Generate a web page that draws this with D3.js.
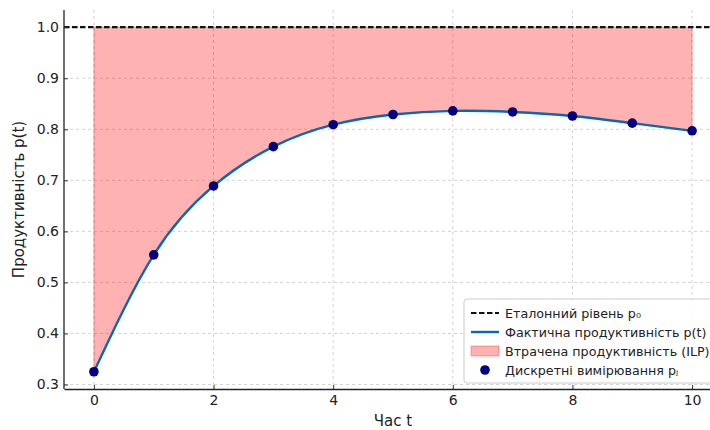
<!DOCTYPE html>
<html lang="uk">
<head>
<meta charset="UTF-8">
<title>Productivity p(t)</title>
<style>
  body { margin: 0; background: #fff; font-family: 'DejaVu Sans', sans-serif; }
  svg text { font-family: 'DejaVu Sans', sans-serif; fill: #222; }
</style>
</head>
<body>
<div id="chart"></div>
<script src="https://cdn.jsdelivr.net/npm/d3@7"></script>
<script>
// measured values
var times     = [0, 1, 2, 3, 4, 5, 6, 7, 8, 9, 10];
var measured  = [0.325, 0.554, 0.689, 0.766, 0.809, 0.829, 0.836, 0.834, 0.826, 0.812, 0.797];
var baseline  = 1.0;
var xTicks    = [0, 2, 4, 6, 8, 10];
var yTicks    = [0.3, 0.4, 0.5, 0.6, 0.7, 0.8, 0.9, 1.0];
var legendLabels = ['Еталонний рівень p₀', 'Фактична продуктивність p(t)', 'Втрачена продуктивність (ILP)', 'Дискретні вимірювання pⱼ'];

var W = 710, H = 430;
var mLeft = 64, mBottom = 389, mTop = 10, mRight = 722;

var svg = d3.select('#chart').append('svg').attr('width', W).attr('height', H);

var x = d3.scaleLinear().domain([-0.5, 10.5]).range([mLeft, mRight]);
var y = d3.scaleLinear().domain([0.2912, 1.0337]).range([mBottom, mTop]);

var pts = times.map(function (t, i) { return [t, measured[i]]; });

// grid
var grid = svg.append('g');
grid.selectAll('.gx').data(xTicks).enter().append('line')
    .attr('x1', d => x(d)).attr('x2', d => x(d)).attr('y1', mTop).attr('y2', mBottom)
    .attr('stroke', '#c8c8c8').attr('stroke-width', 0.8).attr('stroke-dasharray', '3,3');
grid.selectAll('.gy').data(yTicks).enter().append('line')
    .attr('x1', mLeft).attr('x2', W).attr('y1', d => y(d)).attr('y2', d => y(d))
    .attr('stroke', '#c8c8c8').attr('stroke-width', 0.8).attr('stroke-dasharray', '3,3');

// lost productivity area
var curve = d3.curveNatural;
var area = d3.area().x(d => x(d[0])).y0(y(baseline)).y1(d => y(d[1])).curve(curve);
svg.append('path').datum(pts).attr('d', area)
    .attr('fill', 'rgba(255,0,0,0.3)').attr('stroke', 'rgba(255,0,0,0.3)').attr('stroke-width', 1);

// reference level
svg.append('line').attr('x1', mLeft).attr('x2', W).attr('y1', y(baseline)).attr('y2', y(baseline))
    .attr('stroke', '#111').attr('stroke-width', 2.2).attr('stroke-dasharray', '5.5,2.5');

// actual productivity
var line = d3.line().x(d => x(d[0])).y(d => y(d[1])).curve(curve);
svg.append('path').datum(pts).attr('d', line)
    .attr('fill', 'none').attr('stroke', '#0868b0').attr('stroke-width', 2.4);

// measurements
svg.selectAll('.pt').data(pts).enter().append('circle')
    .attr('cx', d => x(d[0])).attr('cy', d => y(d[1])).attr('r', 4.8).attr('fill', '#000080');

// axes
var xAxis = d3.axisBottom(x).tickValues(xTicks).tickSizeInner(-4).tickSizeOuter(0).tickPadding(6).tickFormat(d3.format('d'));
var yAxis = d3.axisLeft(y).tickValues(yTicks).tickSizeInner(-4).tickSizeOuter(0).tickPadding(5).tickFormat(d3.format('.1f'));
var gx = svg.append('g').attr('transform', 'translate(0,' + mBottom + ')').call(xAxis);
var gy = svg.append('g').attr('transform', 'translate(' + mLeft + ',0)').call(yAxis);
[gx, gy].forEach(function (g) {
  g.select('.domain').attr('stroke', '#222').attr('stroke-width', 1.3);
  g.selectAll('.tick line').attr('stroke', '#333');
  g.selectAll('.tick text').attr('font-size', 14).attr('fill', '#222').attr('font-family', "'DejaVu Sans', sans-serif");
});
gy.select('.domain').attr('d', 'M0,' + mTop + 'V' + mBottom);

svg.append('text').attr('x', 393).attr('y', 426).attr('text-anchor', 'middle').attr('font-size', 15).text('Час t');
svg.append('text').attr('transform', 'translate(24,' + ((mTop + mBottom) / 2) + ') rotate(-90)')
    .attr('text-anchor', 'middle').attr('font-size', 15).text('Продуктивність p(t)');

// legend
var lg = svg.append('g').attr('transform', 'translate(464,299)');
lg.append('rect').attr('width', 260).attr('height', 84).attr('rx', 3)
    .attr('fill', 'rgba(255,255,255,0.85)').attr('stroke', '#ccc');
var rowY = function (i) { return 14 + i * 19; };
lg.append('line').attr('x1', 7).attr('x2', 35).attr('y1', rowY(0)).attr('y2', rowY(0))
    .attr('stroke', '#111').attr('stroke-width', 2.2).attr('stroke-dasharray', '5.5,2.5');
lg.append('line').attr('x1', 7).attr('x2', 35).attr('y1', rowY(1)).attr('y2', rowY(1))
    .attr('stroke', '#0868b0').attr('stroke-width', 2.4);
lg.append('rect').attr('x', 7).attr('y', rowY(2) - 5).attr('width', 28).attr('height', 10)
    .attr('fill', 'rgba(255,0,0,0.3)').attr('stroke', 'rgba(255,0,0,0.3)');
lg.append('circle').attr('cx', 21).attr('cy', rowY(3)).attr('r', 4.8).attr('fill', '#000080');
lg.selectAll('.lt').data(legendLabels).enter().append('text')
    .attr('x', 41).attr('y', (d, i) => rowY(i) + 4.5).attr('font-size', 12.7).text(d => d);
</script>
</body>
</html>
